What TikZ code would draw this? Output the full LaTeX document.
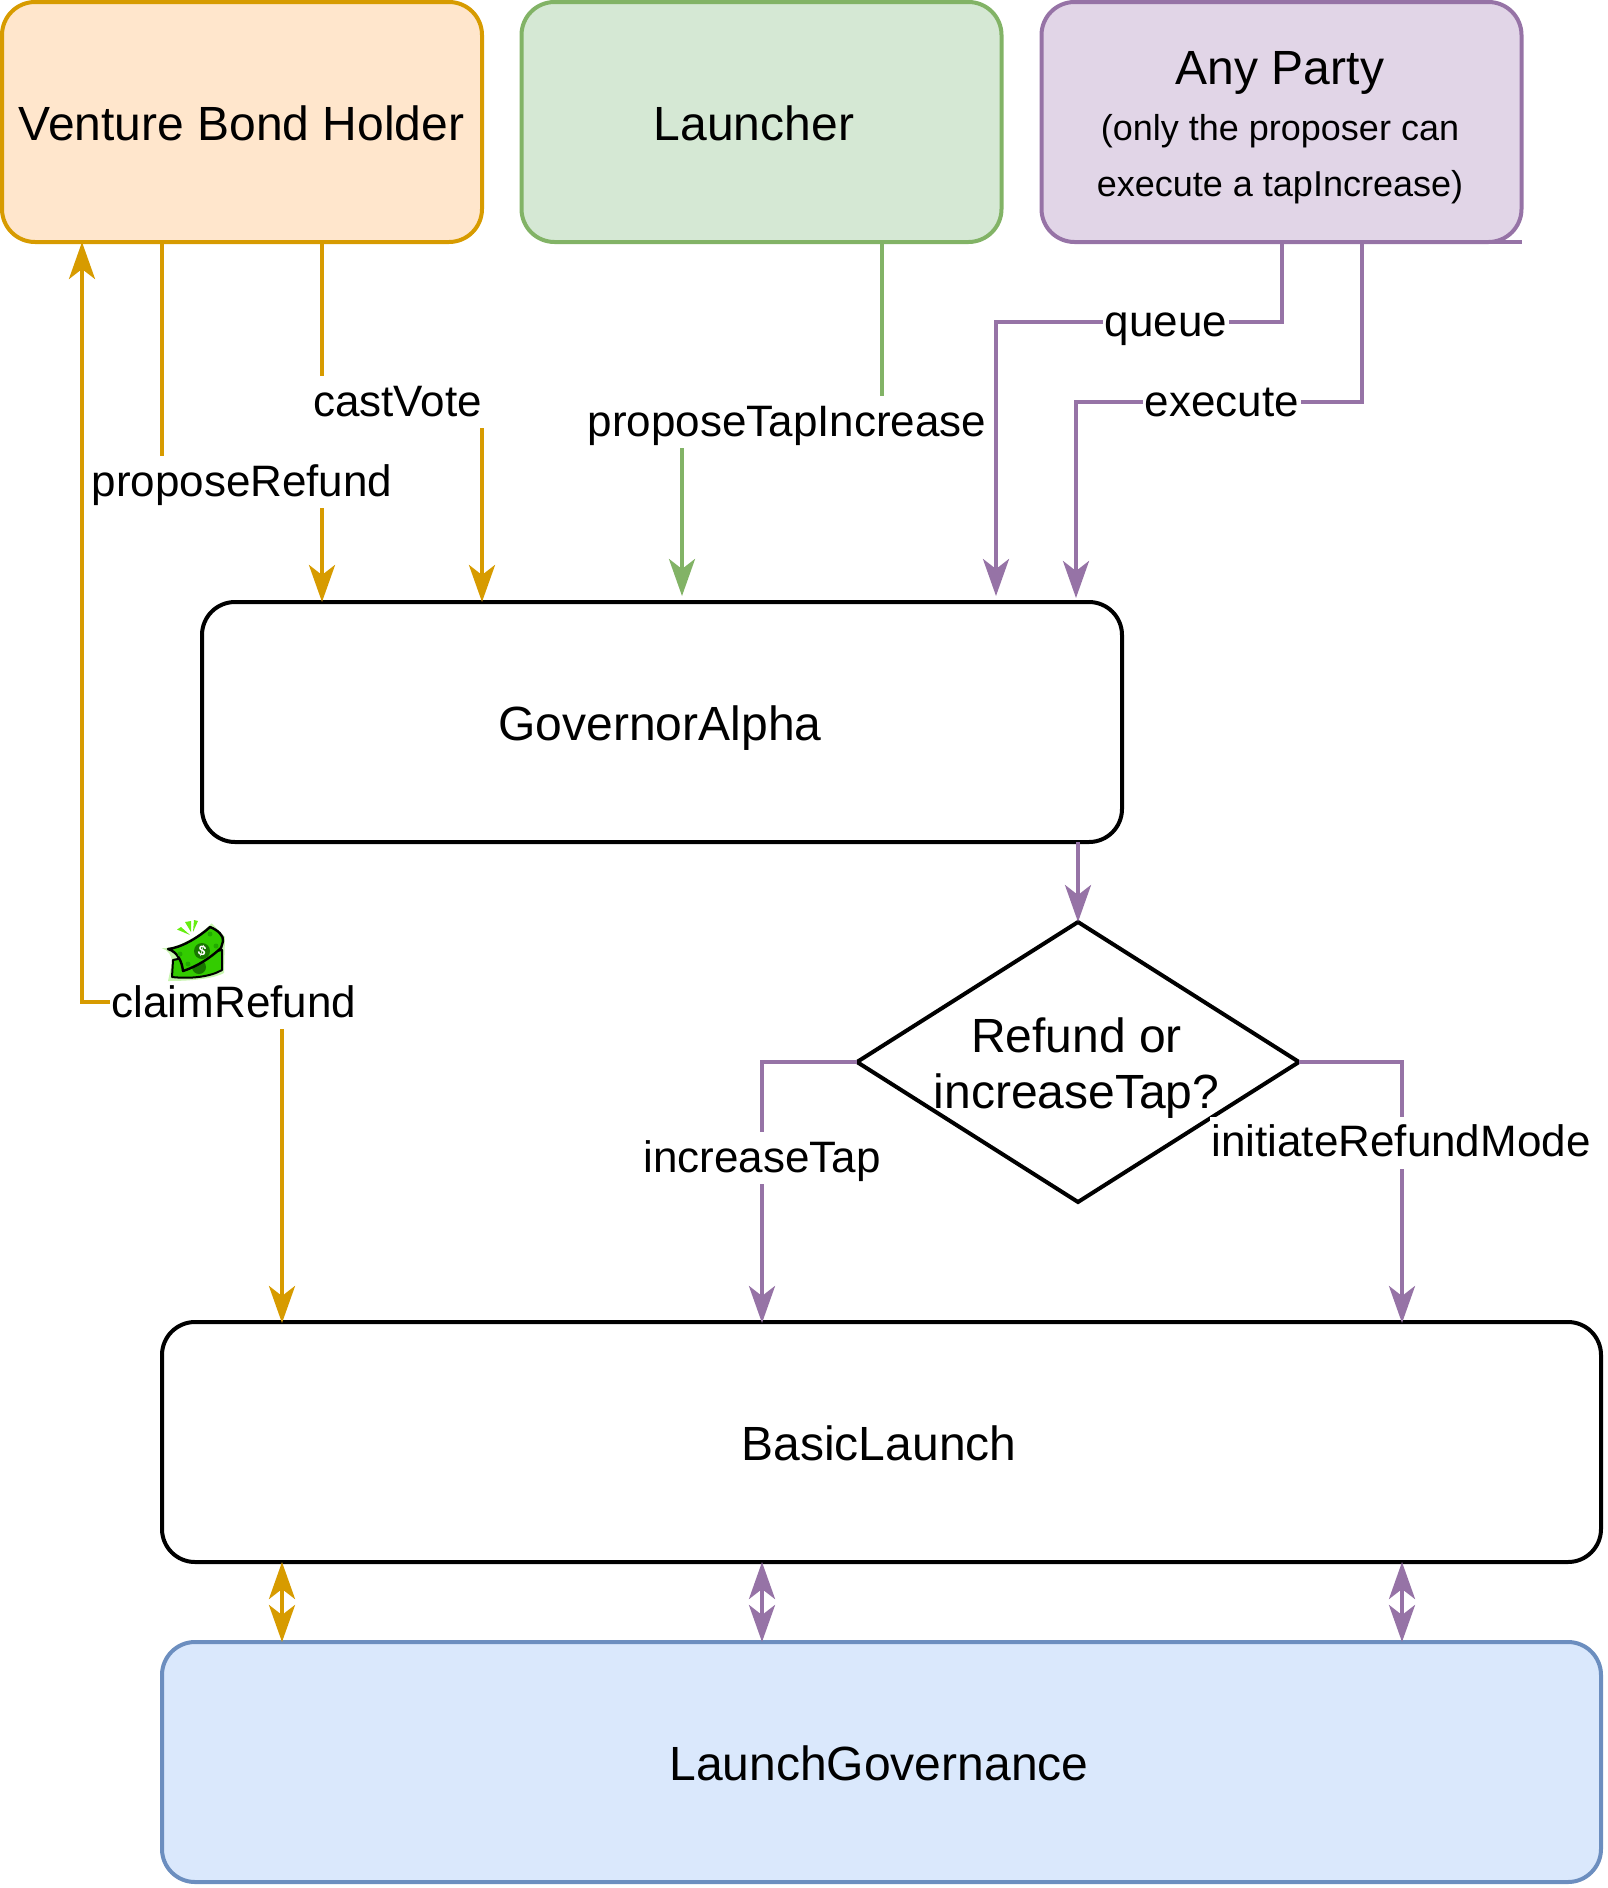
\documentclass[tikz,border=0pt]{standalone}
\usepackage{fontspec}
\setmainfont{Liberation Sans}
\usetikzlibrary{arrows.meta,shapes.geometric,calc}
\definecolor{orangeL}{HTML}{D79B00}
\definecolor{orangeF}{HTML}{FFE6CC}
\definecolor{greenL}{HTML}{82B366}
\definecolor{greenF}{HTML}{D5E8D4}
\definecolor{purpL}{HTML}{9673A6}
\definecolor{purpF}{HTML}{E1D5E7}
\definecolor{blueL}{HTML}{6C8EBF}
\definecolor{blueF}{HTML}{DAE8FC}
\definecolor{billA}{HTML}{33CC00}
\definecolor{billB}{HTML}{22AA00}
\definecolor{billG}{HTML}{C8F5B0}
\definecolor{ray}{HTML}{66EE11}
\tikzset{
  x=1pt,y=-1pt,
  box/.style={rounded corners=33pt,line width=4pt,minimum width=480pt,minimum height=240pt,inner sep=0pt,outer sep=0pt,font=\fontsize{48}{58}\selectfont,text height=46pt,text depth=10pt},
  wide/.style={box,minimum width=1439pt},
  txt/.style={align=center,inner sep=0pt},
  lbl/.style={fill=white,inner ysep=0pt,inner xsep=1.5pt,text height=40pt,text depth=12pt,font=\fontsize{44}{52}\selectfont},
  conn/.style={line width=4pt,-{Stealth[length=37pt,width=26pt,inset=10pt]}},
  conb/.style={line width=4pt,{Stealth[length=37pt,width=26pt,inset=10pt]}-{Stealth[length=37pt,width=26pt,inset=10pt]}},
}
\begin{document}
\begin{tikzpicture}
\useasboundingbox (0,0) rectangle (1608,1888);
% nodes
\node[box,draw=orangeL,fill=orangeF] (vb) at (242,122) {\hspace*{-1pt}Venture Bond Holder};
\node[box,draw=greenL,fill=greenF] (la) at (761.5,122) {\hspace*{-15pt}Launcher};
\node[box,draw=purpL,fill=purpF] (ap) at (1281.5,122) {};
\node[txt,font=\fontsize{48}{56}\selectfont] (apt) at (1280,127.8) {Any Party\\[-0.5pt]{\fontsize{36}{55}\selectfont (only the proposer can}\\[0pt]{\fontsize{36}{40}\selectfont execute a tapIncrease)}};
\node[box,minimum width=920pt,draw=black] (ga) at (662,722) {\hspace*{-4pt}GovernorAlpha};
\node[diamond,draw=black,line width=4pt,minimum width=442pt,minimum height=280pt,inner sep=0pt,outer sep=0pt,aspect=1.58] (di) at (1078,1062) {};
\node[txt,font=\fontsize{48}{56}\selectfont] (dit) at (1076.5,1068) {Refund or\\increaseTap?};
\node[wide,draw=black] (bl) at (881.5,1442) {\hspace*{-5pt}BasicLaunch};
\node[wide,draw=blueL,fill=blueF] (lg) at (881.5,1762) {\hspace*{-5pt}LaunchGovernance};
% stub corner of Any Party
\coordinate (apc) at (1522,242);
\coordinate (apd) at (1480,242);
\draw[purpL,line width=4pt] (apd) -- (apc);
% connectors
\coordinate (prA) at (162,242);
\draw[conn,orangeL] (prA) -- (162,483) -- (322,483) -- (322,602);
\coordinate (cvA) at (322,242);
\draw[conn,orangeL] (cvA) -- (322,402) -- (482,402) -- (482,602);
\coordinate (ptA) at (882,242);
\draw[conn,greenL] (ptA) -- (882,422) -- (682,422) -- (682,596);
\coordinate (quA) at (1282,242);
\draw[conn,purpL] (quA) -- (1282,322) -- (996,322) -- (996,596);
\coordinate (exA) at (1362,242);
\draw[conn,purpL] (exA) -- (1362,402) -- (1076,402) -- (1076,598);
\draw[conn,purpL] (ga.south -| di.north) -- (di.north);
\draw[conn,purpL] (di.west) -- (762,1062) -- (762,1323);
\draw[conn,purpL] (di.east) -- (1402,1062) -- (1402,1323);
\coordinate (crM) at (180,1002);
\draw[conn,orangeL] (crM) -- (82,1002) -- (82,242);
\draw[conn,orangeL] (crM) -- (282,1002) -- (282,1323);
\draw[conb,orangeL] (282,1562) -- (282,1642);
\draw[conb,purpL] (762,1562) -- (762,1642);
\draw[conb,purpL] (1402,1562) -- (1402,1642);
% labels
\node[lbl] (l1) at (242,482) {proposeRefund};
\node[lbl,inner xsep=3.5pt] (l2) at (397.5,402) {castVote};
\node[lbl] (l3) at (787,422) {proposeTapIncrease};
\node[lbl] (l4) at (1166,322) {queue};
\node[lbl] (l5) at (1222,402) {execute};
\node[lbl] (l6) at (234,1003) {claimRefund};
\node[lbl] (l7) at (762,1158) {increaseTap};
\node[lbl] (l8) at (1401,1142.5) {initiateRefundMode};
% money icon
\begin{scope}[line join=round]
\fill[billG] (161.7,948.3) .. controls (180,948) and (200,935) .. (211.7,923.3) -- (225,937) -- (224,973) .. controls (215,978) and (195,981) .. (168,981) -- (172,963) .. controls (172,955) and (168,950) .. (161.7,948.3) -- cycle;
\draw[line width=2pt,fill=billA] (173,960) -- (172,977) .. controls (190,979) and (210,977) .. (222,970) -- (222,950) -- cycle;
\fill[billB!70!black] (199,967) circle (7);
\draw[line width=2.4pt,fill=billA] (168,949) .. controls (180,948) and (198,938) .. (210,927) .. controls (218,930) and (224,936) .. (223,941) .. controls (222,944) and (222,946) .. (221,948) .. controls (210,958) and (198,966) .. (183,971) .. controls (182,962) and (178,952) .. (168,949) -- cycle;
\fill[billB!70!black] (202,951) circle (8);
\node[text=white,font=\bfseries\fontsize{14}{14}\selectfont,inner sep=0pt,rotate=-15] (dol) at (202,951) {\$};
\fill[billB] (180,954) circle (2.5) (188,964) circle (2.5) (210,934) circle (2.5) (216,946) circle (2.5);
\fill[ray] (177,929.5) -- (181,927) -- (190,935) -- cycle;
\fill[ray] (185,922) -- (191,921) -- (191,932) -- cycle;
\fill[ray] (194,920) -- (198,921) -- (193,932) -- cycle;
\end{scope}
\end{tikzpicture}
\end{document}
